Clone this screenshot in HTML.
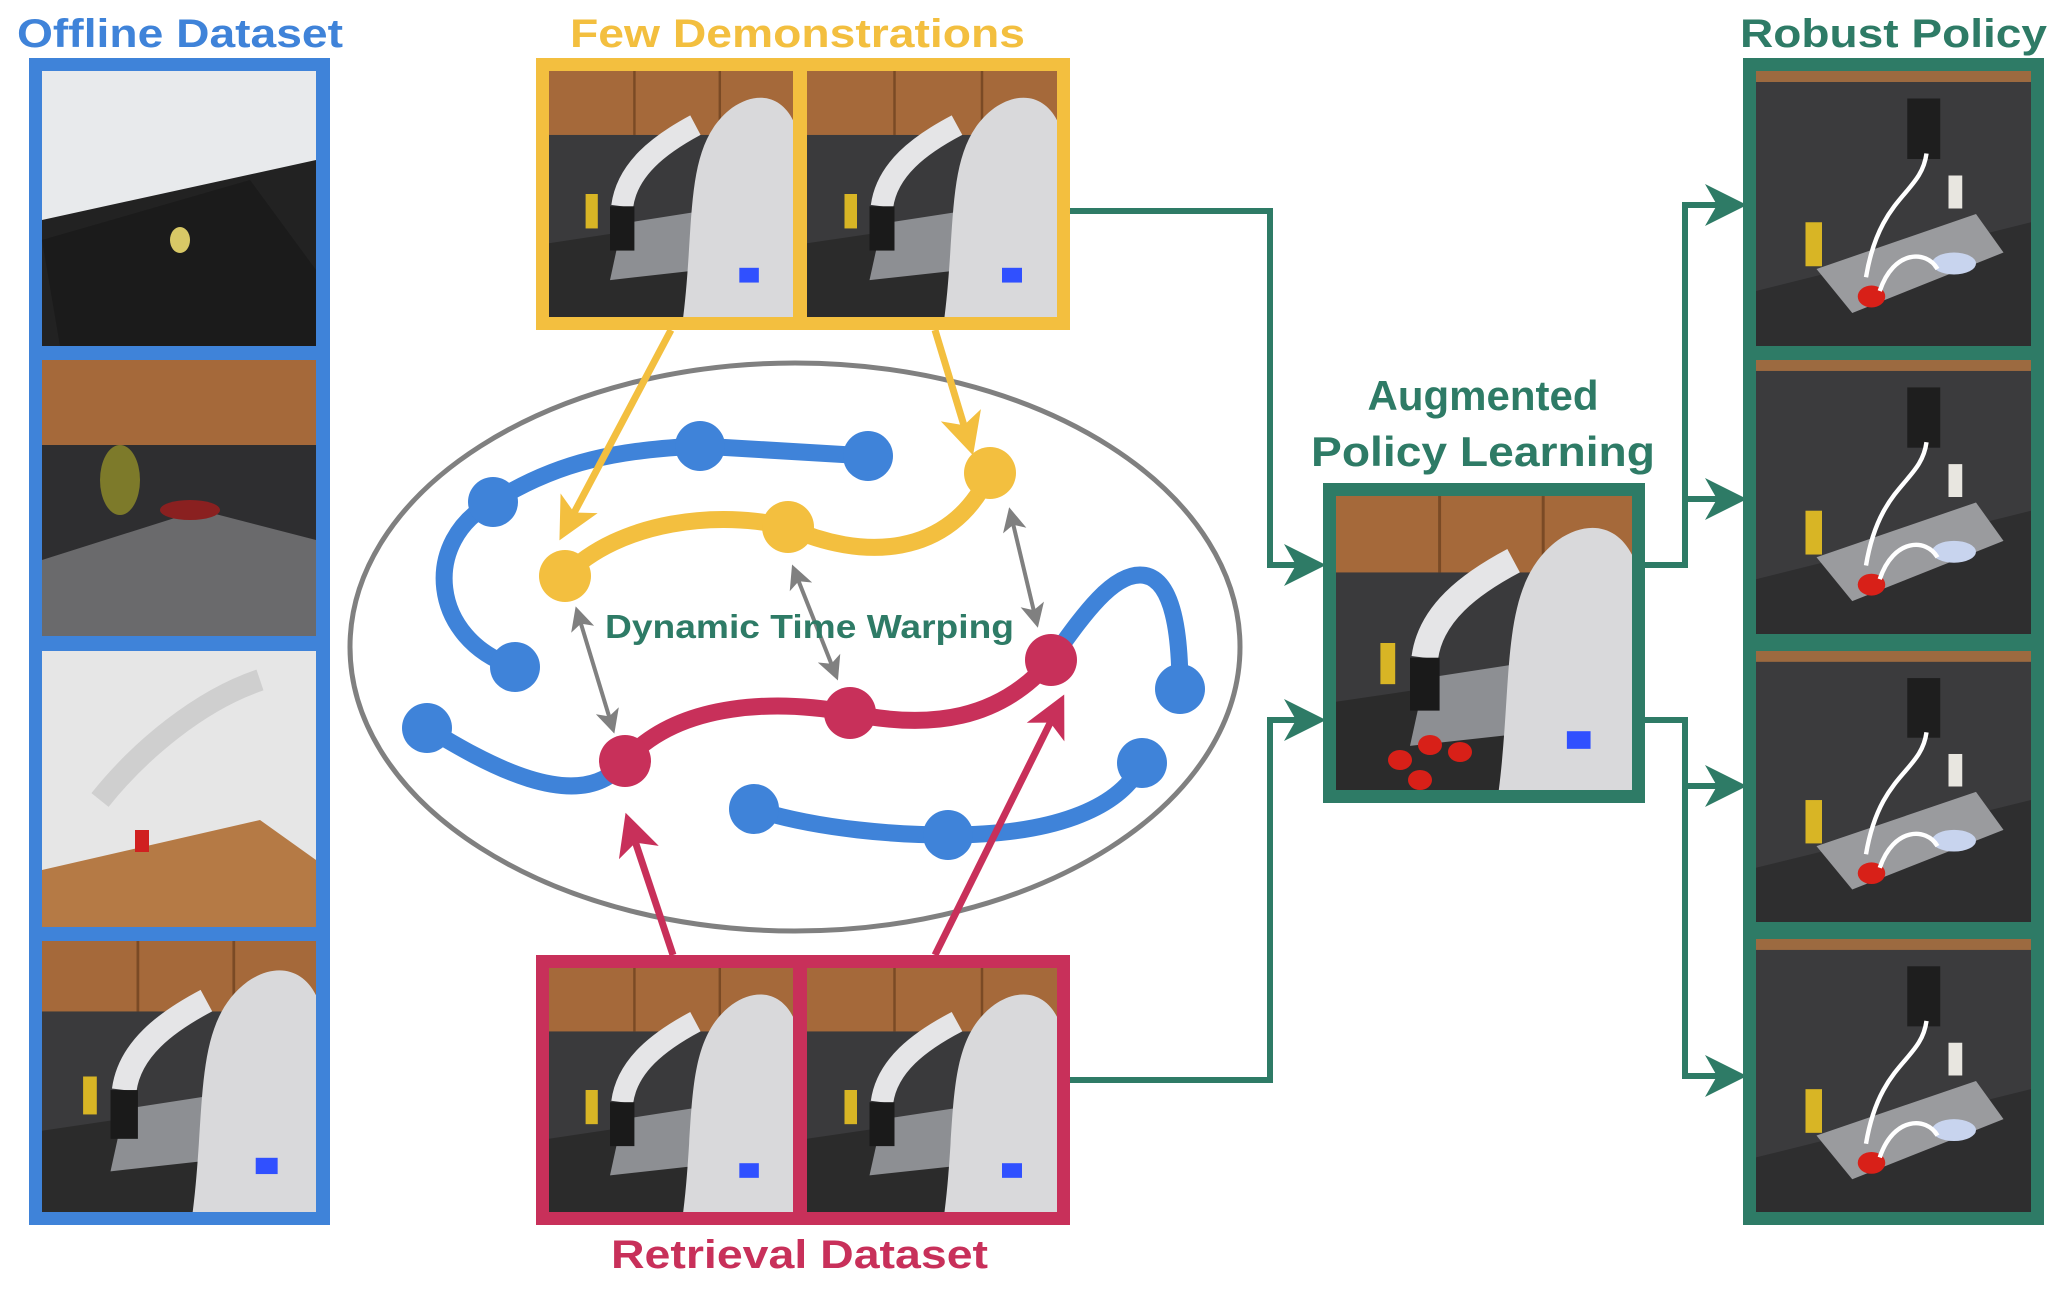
<!DOCTYPE html>
<html><head><meta charset="utf-8"><style>
html,body{margin:0;padding:0;background:#fff;}
svg{display:block;}
text{font-family:"Liberation Sans",sans-serif;font-weight:bold;}
</style></head><body>
<svg width="2060" height="1292" viewBox="0 0 2060 1292" xmlns="http://www.w3.org/2000/svg">
<defs>
<symbol id="kit" viewBox="0 0 100 100" preserveAspectRatio="none">
<rect width="100" height="100" fill="#3a3a3c"/>
<rect width="100" height="26" fill="#a5693a"/>
<line x1="35" y1="0" x2="35" y2="26" stroke="#7a4a25" stroke-width="1"/>
<line x1="70" y1="0" x2="70" y2="26" stroke="#7a4a25" stroke-width="1"/>
<polygon points="0,70 100,55 100,100 0,100" fill="#2b2b2b"/>
<polygon points="30,62 75,55 70,80 25,85" fill="#8d8f93"/>
<rect x="15" y="50" width="5" height="14" fill="#d8b525"/>
<path d="M55,100 C60,60 55,30 75,15 C85,8 95,10 100,20 L100,100 Z" fill="#d9d9db"/>
<path d="M30,55 C32,40 45,30 60,22" stroke="#e5e5e7" stroke-width="9" fill="none"/>
<rect x="25" y="55" width="10" height="18" fill="#1a1a1a"/>
<rect x="78" y="80" width="8" height="6" fill="#3050ff"/>
</symbol>
<symbol id="rob" viewBox="0 0 100 100" preserveAspectRatio="none">
<rect width="100" height="100" fill="#3b3b3d"/>
<rect width="100" height="4" fill="#9c6a40"/>
<polygon points="0,80 100,55 100,100 0,100" fill="#2e2e2f"/>
<polygon points="22,72 80,52 90,66 35,88" fill="#9a9b9e"/>
<rect x="18" y="55" width="6" height="16" fill="#d8b525"/>
<rect x="55" y="10" width="12" height="22" fill="#1e1e1e"/>
<rect x="70" y="38" width="5" height="12" fill="#e8e6e0"/>
<ellipse cx="72" cy="70" rx="8" ry="4" fill="#c8d4ee"/>
<ellipse cx="42" cy="82" rx="5" ry="4" fill="#d82018"/>
<path d="M62,30 C60,45 45,45 40,75" stroke="#fff" stroke-width="1.6" fill="none"/>
<path d="M45,80 C50,65 62,65 66,72" stroke="#fff" stroke-width="1.6" fill="none"/>
</symbol>
<marker id="ay" markerWidth="6" markerHeight="6" refX="4" refY="3" orient="auto" markerUnits="strokeWidth"><path d="M0,0 L6,3 L0,6 L1.5,3 Z" fill="#f3bf3f"/></marker>
<marker id="ar" markerWidth="6" markerHeight="6" refX="4" refY="3" orient="auto" markerUnits="strokeWidth"><path d="M0,0 L6,3 L0,6 L1.5,3 Z" fill="#c8305a"/></marker>
<marker id="ag" markerWidth="7" markerHeight="7" refX="5" refY="3.5" orient="auto" markerUnits="strokeWidth"><path d="M0,0 L7,3.5 L0,7 L2,3.5 Z" fill="#2e7b66"/></marker>
<marker id="agr" markerWidth="6" markerHeight="6" refX="4" refY="3" orient="auto-start-reverse" markerUnits="strokeWidth"><path d="M0,0 L6,3 L0,6 L1.5,3 Z" fill="#808080"/></marker>
</defs>

<text x="17" y="47" font-size="40" fill="#3f83d9" textLength="326" lengthAdjust="spacingAndGlyphs">Offline Dataset</text>
<text x="570" y="47" font-size="40" fill="#f3bf3f" textLength="455" lengthAdjust="spacingAndGlyphs">Few Demonstrations</text>
<text x="1740" y="47" font-size="40" fill="#2e7b66" textLength="307" lengthAdjust="spacingAndGlyphs">Robust Policy</text>
<text x="611" y="1268" font-size="40" fill="#c8305a" textLength="377" lengthAdjust="spacingAndGlyphs">Retrieval Dataset</text>
<text x="1483" y="410" font-size="42" fill="#2e7b66" text-anchor="middle">Augmented</text>
<text x="1483" y="466" font-size="42" fill="#2e7b66" text-anchor="middle" textLength="344" lengthAdjust="spacingAndGlyphs">Policy Learning</text>

<rect x="29" y="58" width="301" height="1167" fill="#3f83d9"/>
<rect x="42" y="71" width="274" height="275" fill="#222"/>
<polygon points="42,71 316,71 316,160 42,220" fill="#e8eaec"/>
<polygon points="42,240 250,180 316,270 316,346 60,346" fill="#1b1b1b"/>
<ellipse cx="180" cy="240" rx="10" ry="13" fill="#d8c866"/>
<rect x="42" y="360" width="274" height="276" fill="#2e2e30"/>
<rect x="42" y="360" width="274" height="85" fill="#a5693a"/>
<polygon points="42,560 200,510 316,540 316,636 42,636" fill="#6a6a6c"/>
<ellipse cx="120" cy="480" rx="20" ry="35" fill="#7d7a2a"/>
<ellipse cx="190" cy="510" rx="30" ry="10" fill="#8a2020"/>
<rect x="42" y="651" width="274" height="276" fill="#e6e6e6"/>
<polygon points="42,870 260,820 316,860 316,927 42,927" fill="#b57a45"/>
<rect x="135" y="830" width="14" height="22" fill="#d02020"/>
<path d="M100,800 C140,750 200,700 260,680" stroke="#cfcfcf" stroke-width="22" fill="none"/>
<use href="#kit" x="42" y="941" width="274" height="271"/>

<rect x="536" y="58" width="534" height="272" fill="#f3bf3f"/>
<use href="#kit" x="549" y="71" width="244" height="246"/>
<use href="#kit" x="807" y="71" width="250" height="246"/>

<rect x="536" y="955" width="534" height="270" fill="#c8305a"/>
<use href="#kit" x="549" y="968" width="244" height="244"/>
<use href="#kit" x="807" y="968" width="250" height="244"/>

<rect x="1323" y="483" width="322" height="320" fill="#2e7b66"/>
<use href="#kit" x="1336" y="496" width="296" height="294"/>
<ellipse cx="1400" cy="760" rx="12" ry="10" fill="#d82018"/>
<ellipse cx="1430" cy="745" rx="12" ry="10" fill="#d82018"/>
<ellipse cx="1460" cy="752" rx="12" ry="10" fill="#d82018"/>
<ellipse cx="1420" cy="780" rx="12" ry="10" fill="#d82018"/>

<rect x="1743" y="58" width="301" height="1167" fill="#2e7b66"/>
<use href="#rob" x="1756" y="71" width="275" height="275"/>
<use href="#rob" x="1756" y="360" width="275" height="274"/>
<use href="#rob" x="1756" y="651" width="275" height="271"/>
<use href="#rob" x="1756" y="939" width="275" height="273"/>

<ellipse cx="795" cy="647" rx="445" ry="284" fill="none" stroke="#808080" stroke-width="5"/>

<g fill="none" stroke-width="17" stroke-linecap="round">
<path d="M515,667 C430,640 420,540 493,502 C560,460 620,450 700,446 L868,456" stroke="#3f83d9"/>
<path d="M427,728 C480,760 580,820 625,761" stroke="#3f83d9"/>
<path d="M1051,660 C1080,620 1110,575 1140,575 C1175,575 1180,640 1180,689" stroke="#3f83d9"/>
<path d="M754,809 C820,830 900,835 948,835 C1050,835 1120,810 1142,763" stroke="#3f83d9"/>
<path d="M565,576 C620,520 720,510 788,527 C860,560 950,560 990,473" stroke="#f3bf3f"/>
<path d="M625,761 C680,700 780,700 850,713 C930,730 1000,720 1051,660" stroke="#c8305a"/>
</g>
<g fill="#3f83d9">
<circle cx="515" cy="667" r="25"/><circle cx="493" cy="502" r="25"/><circle cx="700" cy="446" r="25"/><circle cx="868" cy="456" r="25"/>
<circle cx="427" cy="728" r="25"/><circle cx="1180" cy="689" r="25"/><circle cx="754" cy="809" r="25"/><circle cx="948" cy="835" r="25"/><circle cx="1142" cy="763" r="25"/>
</g>
<g fill="#f3bf3f"><circle cx="565" cy="576" r="26"/><circle cx="788" cy="527" r="26"/><circle cx="990" cy="473" r="26"/></g>
<g fill="#c8305a"><circle cx="625" cy="761" r="26"/><circle cx="850" cy="713" r="26"/><circle cx="1051" cy="660" r="26"/></g>

<g stroke-width="7" fill="none">
<line x1="671" y1="330" x2="566" y2="528" stroke="#f3bf3f" marker-end="url(#ay)"/>
<line x1="935" y1="330" x2="969" y2="442" stroke="#f3bf3f" marker-end="url(#ay)"/>
<line x1="673" y1="955" x2="630" y2="826" stroke="#c8305a" marker-end="url(#ar)"/>
<line x1="935" y1="955" x2="1058" y2="707" stroke="#c8305a" marker-end="url(#ar)"/>
</g>
<g stroke="#808080" stroke-width="4" fill="none">
<line x1="578" y1="614" x2="612" y2="726" marker-start="url(#agr)" marker-end="url(#agr)"/>
<line x1="795" y1="572" x2="835" y2="673" marker-start="url(#agr)" marker-end="url(#agr)"/>
<line x1="1011" y1="515" x2="1036" y2="620" marker-start="url(#agr)" marker-end="url(#agr)"/>
</g>
<text x="605" y="638" font-size="33" fill="#2e7b66" textLength="409" lengthAdjust="spacingAndGlyphs">Dynamic Time Warping</text>

<g stroke="#2e7b66" stroke-width="6" fill="none">
<polyline points="1070,211 1270,211 1270,565 1314,565" marker-end="url(#ag)"/>
<polyline points="1070,1080 1270,1080 1270,720 1314,720" marker-end="url(#ag)"/>
<polyline points="1645,565 1685,565 1685,205 1735,205" marker-end="url(#ag)"/>
<polyline points="1685,499 1735,499" marker-end="url(#ag)"/>
<polyline points="1645,720 1685,720 1685,1076 1735,1076" marker-end="url(#ag)"/>
<polyline points="1685,786 1735,786" marker-end="url(#ag)"/>
</g>
</svg>
</body></html>
